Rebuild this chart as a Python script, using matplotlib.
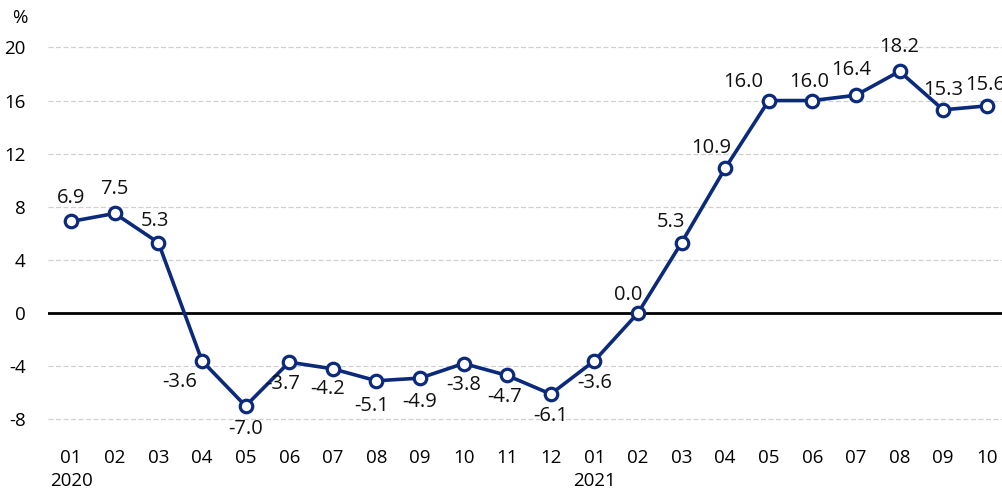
import matplotlib.pyplot as plt

plt.rcParams['font.family'] = ['Open Sans', 'DejaVu Sans']

months = ["01", "02", "03", "04", "05", "06", "07", "08", "09", "10", "11", "12",
          "01", "02", "03", "04", "05", "06", "07", "08", "09", "10"]
years = {0: "2020", 12: "2021"}
values = [6.9, 7.5, 5.3, -3.6, -7.0, -3.7, -4.2, -5.1, -4.9, -3.8, -4.7, -6.1,
          -3.6, 0.0, 5.3, 10.9, 16.0, 16.0, 16.4, 18.2, 15.3, 15.6]
yticks = [-8, -4, 0, 4, 8, 12, 16, 20]

# label offsets in pixels (dx, dy)
offsets = [(0, 23), (0, 24), (-3, 22), (-22, -21), (0, -23), (-7, -22), (-5, -20),
           (-5, -25), (0, -24), (0, -21), (-3, -22), (0, -22), (0, -22),
           (-10, 18), (-11, 21), (-14, 20), (-26, 19), (-3, 19), (-5, 25),
           (0, 24), (0, 20), (-2, 21)]

navy = "#0b2a7c"

fig = plt.figure(figsize=(10.02, 4.88), dpi=100)
ax = fig.add_axes([0.048, 0.10, 0.952, 0.83])

x = list(range(len(values)))
ax.plot(x, values, color=navy, lw=2.6, marker="o", ms=9, mfc="white",
        mec=navy, mew=2.3, zorder=3, clip_on=False)

for i, v in enumerate(values):
    dx, dy = offsets[i]
    ax.annotate(f"{v:.1f}", (i, v), xytext=(dx, dy), textcoords="offset pixels",
                ha="center", va="center", fontsize=14.5, color="#111111",
                annotation_clip=False, zorder=4)

ax.axhline(0, color="black", lw=2, zorder=2)
ax.set_xlim(-0.53, 21.35)
ax.set_ylim(-9.5, 21)
ax.set_yticks(yticks)
ax.set_yticklabels([str(t) for t in yticks], fontsize=13.5)
ax.set_xticks(x)
ax.set_xticklabels([m + ("\n" + years[i] if i in years else "\n") for i, m in enumerate(months)],
                   fontsize=13.5, linespacing=1.35, va="top")
ax.tick_params(length=0, pad=7)
ax.tick_params(axis="y", pad=16)
ax.grid(axis="y", color="#d0d0d0", ls=(0, (4, 2)), lw=0.9)
ax.set_axisbelow(True)
for s in ax.spines.values():
    s.set_visible(False)

fig.text(0.012, 0.952, "%", fontsize=13.5)

fig.savefig("out.png", dpi=100)
